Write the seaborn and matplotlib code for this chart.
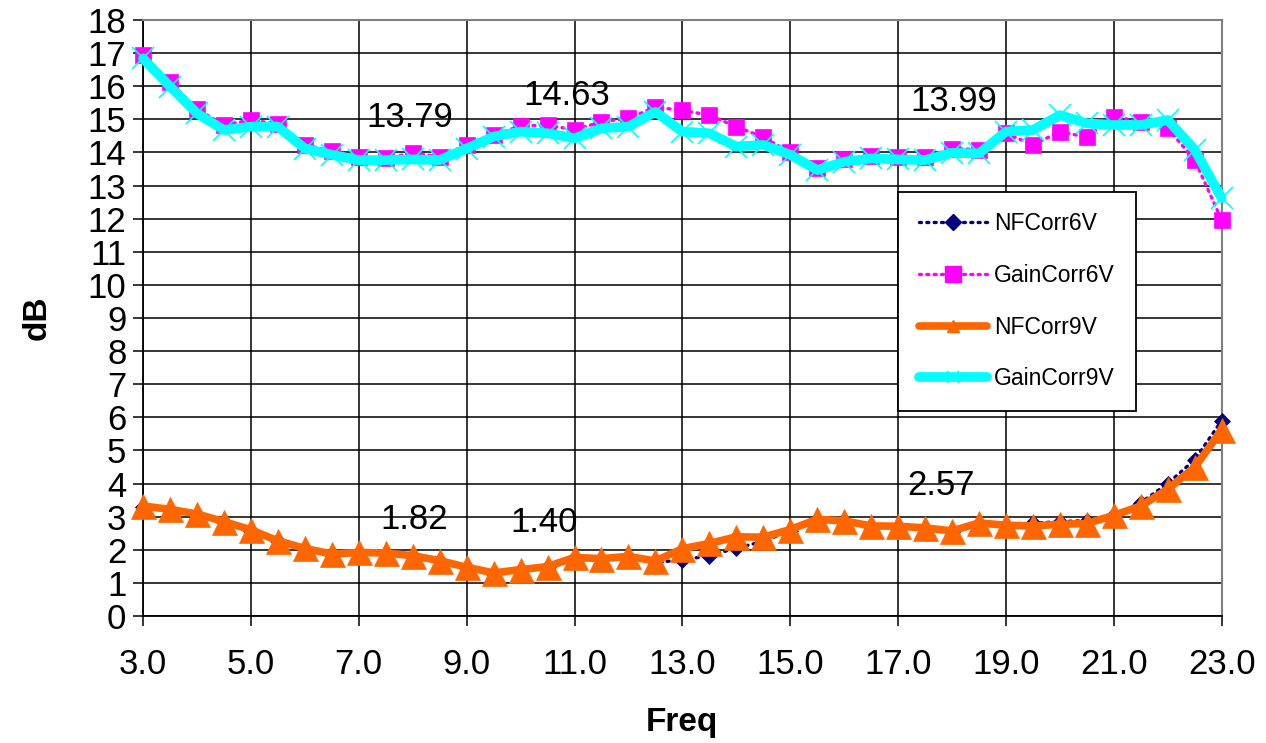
import pandas as pd
import seaborn as sns
import matplotlib.pyplot as plt
from matplotlib.lines import Line2D
from matplotlib.ticker import FormatStrFormatter, MultipleLocator

# Frequency points (GHz)
freq = [3.0, 3.5, 4.0, 4.5, 5.0, 5.5, 6.0, 6.5, 7.0, 7.5,
        8.0, 8.5, 9.0, 9.5, 10.0, 10.5, 11.0, 11.5, 12.0, 12.5,
        13.0, 13.5, 14.0, 14.5, 15.0, 15.5, 16.0, 16.5, 17.0, 17.5,
        18.0, 18.5, 19.0, 19.5, 20.0, 20.5, 21.0, 21.5, 22.0, 22.5,
        23.0]

# Labelled frequencies on the x axis
freq_ticks = [3.0, 5.0, 7.0, 9.0, 11.0, 13.0, 15.0, 17.0, 19.0, 21.0, 23.0]

nf_corr_6v = [3.30, 3.20, 3.06, 2.83, 2.58, 2.25, 2.02, 1.85, 1.90, 1.88,
              1.80, 1.65, 1.45, 1.28, 1.38, 1.47, 1.75, 1.71, 1.78, 1.62,
              1.69, 1.82, 2.05, 2.25, 2.58, 2.90, 2.85, 2.70, 2.69, 2.64,
              2.55, 2.79, 2.72, 2.80, 2.85, 2.88, 3.05, 3.42, 4.00, 4.72,
              5.90]

gain_corr_6v = [16.95, 16.14, 15.31, 14.83, 14.98, 14.86, 14.23, 14.04, 13.87, 13.82,
                13.99, 13.87, 14.23, 14.53, 14.80, 14.83, 14.68, 14.93, 15.03, 15.37,
                15.27, 15.13, 14.78, 14.46, 14.00, 13.52, 13.79, 13.89, 13.86, 13.86,
                14.12, 14.09, 14.58, 14.23, 14.63, 14.46, 15.08, 14.93, 14.73, 13.77,
                11.96]

nf_corr_9v = [3.32, 3.22, 3.08, 2.85, 2.60, 2.27, 2.04, 1.87, 1.92, 1.90,
              1.82, 1.67, 1.47, 1.30, 1.40, 1.49, 1.77, 1.73, 1.80, 1.66,
              2.03, 2.19, 2.39, 2.38, 2.61, 2.92, 2.87, 2.72, 2.71, 2.66,
              2.57, 2.81, 2.74, 2.72, 2.77, 2.79, 3.04, 3.32, 3.83, 4.49,
              5.62]

gain_corr_9v = [16.84, 15.99, 15.18, 14.68, 14.78, 14.78, 14.12, 13.93, 13.77, 13.77,
                13.79, 13.77, 14.12, 14.48, 14.63, 14.58, 14.43, 14.73, 14.78, 15.23,
                14.63, 14.58, 14.18, 14.23, 13.93, 13.47, 13.72, 13.82, 13.79, 13.77,
                13.99, 13.97, 14.63, 14.68, 15.13, 14.88, 14.83, 14.83, 14.98, 14.08,
                12.62]

# Frequencies whose 9V values are called out on the chart
callout_freqs = [8.0, 10.0, 18.0]

df = pd.DataFrame({
    "Freq": freq,
    "NFCorr6V": nf_corr_6v,
    "GainCorr6V": gain_corr_6v,
    "NFCorr9V": nf_corr_9v,
    "GainCorr9V": gain_corr_9v,
})

sns.set_theme(style="white")
plt.rcParams["font.family"] = ["Liberation Sans", "DejaVu Sans"]
plt.rcParams["text.color"] = "black"
plt.rcParams["axes.labelcolor"] = "black"
plt.rcParams["xtick.color"] = "black"
plt.rcParams["ytick.color"] = "black"

fig = plt.figure(figsize=(12.66, 7.43), dpi=100)
ax = fig.add_axes([0.113, 0.171, 0.852, 0.802])

dotted = (0, (0.6, 1.6))
styles = {
    "NFCorr6V": dict(color="#000080", linestyle=dotted, linewidth=2.4,
                     marker="D", markersize=8, markerfacecolor="#000080",
                     markeredgecolor="#000080", markeredgewidth=0.5),
    "GainCorr6V": dict(color="#FF00FF", linestyle=dotted, linewidth=2.4,
                       marker="s", markersize=11.5, markerfacecolor="#FF00FF",
                       markeredgecolor="#FF00FF", markeredgewidth=0.5),
    "NFCorr9V": dict(color="#FF6600", linestyle="-", linewidth=5.5,
                     marker="^", markersize=18, markerfacecolor="#FF6600",
                     markeredgecolor="#FF6600", markeredgewidth=0.5),
    "GainCorr9V": dict(color="#00FFFF", linestyle="-", linewidth=7,
                       marker="x", markersize=16, markerfacecolor="#00FFFF",
                       markeredgecolor="#00FFFF", markeredgewidth=1.2),
}

for name, st in styles.items():
    sns.lineplot(data=df, x="Freq", y=name, ax=ax, legend=False,
                 dash_capstyle="round", solid_capstyle="round",
                 clip_on=False, zorder=3, **st)

# Axes, grid and ticks
ax.set_xlim(freq[0], freq[-1])
ax.set_ylim(0, 18)
ax.set_xticks(freq_ticks)
ax.xaxis.set_major_formatter(FormatStrFormatter("%.1f"))
ax.yaxis.set_major_locator(MultipleLocator(1))
ax.grid(True, color="black", linewidth=1.1)
ax.set_axisbelow(True)
ax.tick_params(axis="both", labelsize=25, colors="black")
ax.tick_params(axis="x", direction="out", length=7, width=1.1, pad=16, bottom=True)
ax.tick_params(axis="y", direction="out", length=7, width=1.1, pad=5, left=True)
for side in ("left", "bottom"):
    ax.spines[side].set_color("black")
    ax.spines[side].set_linewidth(1.3)
for side in ("top", "right"):
    ax.spines[side].set_color("#808080")
    ax.spines[side].set_linewidth(1.5)

ax.set_xlabel("Freq", fontsize=24, fontweight="bold", labelpad=19, color="black")
ax.set_ylabel("dB", fontsize=24, fontweight="bold", labelpad=25, color="black")

# Value callouts for the 9V curves
gain_offsets = {8.0: (-2, 30), 10.0: (33, 26), 18.0: (1, 37)}
nf_offsets = {8.0: (1, 26), 10.0: (17, 34), 18.0: (-8, 33)}
for f in callout_freqs:
    i = freq.index(f)
    g = gain_corr_9v[i]
    n = nf_corr_9v[i]
    ax.annotate(f"{g:.2f}", xy=(f, g), xytext=gain_offsets[f],
                textcoords="offset points", ha="center", va="center",
                fontsize=25, color="black", zorder=4)
    ax.annotate(f"{n:.2f}", xy=(f, n), xytext=nf_offsets[f],
                textcoords="offset points", ha="center", va="center",
                fontsize=25, color="black", zorder=4)

# Legend with compact marker symbols
handles = [
    Line2D([], [], color="#000080", linestyle=dotted, linewidth=2.4,
           dash_capstyle="round", marker="D", markersize=8,
           markerfacecolor="#000080", markeredgecolor="#000080"),
    Line2D([], [], color="#FF00FF", linestyle=dotted, linewidth=2.4,
           dash_capstyle="round", marker="s", markersize=11,
           markerfacecolor="#FF00FF", markeredgecolor="#FF00FF"),
    Line2D([], [], color="#FF6600", linewidth=5.5, solid_capstyle="round",
           marker="^", markersize=9, markerfacecolor="#FF6600",
           markeredgecolor="#FF6600"),
    Line2D([], [], color="#00FFFF", linewidth=7, solid_capstyle="round",
           marker="x", markersize=9, markeredgecolor="#00FFFF",
           markeredgewidth=1.2),
]
leg = ax.legend(handles, list(styles.keys()), loc="upper left",
                bbox_to_anchor=(0.700, 0.712), fontsize=16.5,
                frameon=True, fancybox=False, shadow=False,
                handlelength=3.0, handletextpad=0.3, labelspacing=1.25,
                borderpad=0.9, borderaxespad=0.0)
for txt in leg.get_texts():
    txt.set_color("black")
leg.get_frame().set_edgecolor("black")
leg.get_frame().set_linewidth(1.3)
leg.get_frame().set_facecolor("white")
leg.get_frame().set_alpha(1.0)
leg.set_zorder(5)

fig.savefig("out.png", dpi=100, facecolor="white")
